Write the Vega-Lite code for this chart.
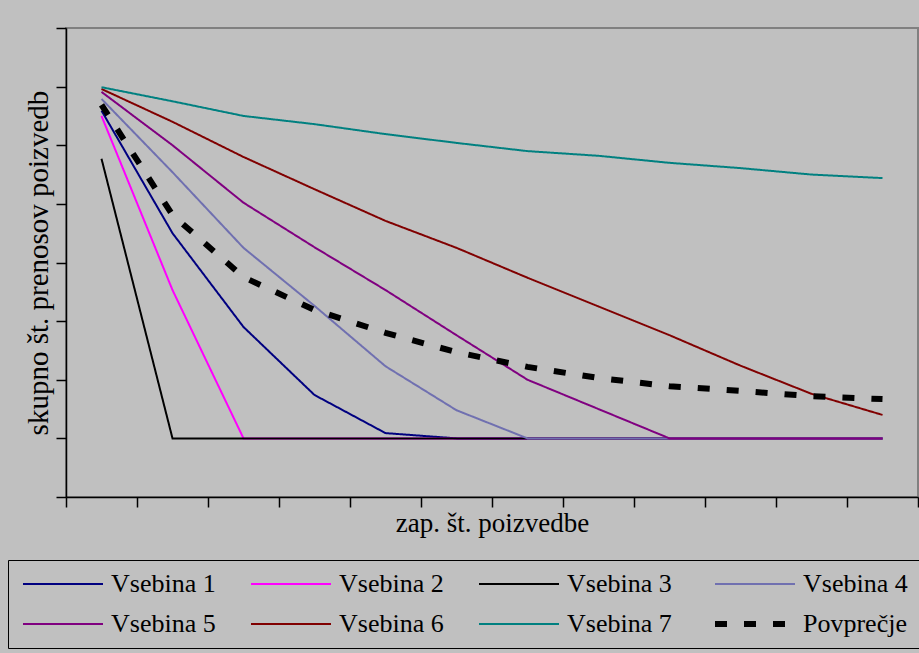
{
  "$schema": "https://vega.github.io/schema/vega-lite/v6.json",
  "autosize": {"type": "none"},
  "width": 852,
  "height": 469,
  "padding": {"left": 66, "top": 28, "right": 1, "bottom": 156},
  "background": "#C0C0C0",
  "config": {
    "font": "Liberation Serif",
    "view": {"fill": "#C0C0C0", "stroke": "#808080", "strokeWidth": 2},
    "axis": {
      "grid": false,
      "labels": false,
      "domainColor": "#000000",
      "domainWidth": 1.5,
      "tickColor": "#000000",
      "tickWidth": 1.5,
      "tickSize": 10,
      "titleFont": "Liberation Serif",
      "titleFontWeight": "normal",
      "titleColor": "#000000"
    },
    "legend": {
      "labelFont": "Liberation Serif",
      "labelFontSize": 26,
      "labelColor": "#000000",
      "labelFontWeight": "normal"
    }
  },
  "data": {
    "values": [
      {"x": 1, "y": 65.9, "series": "Vsebina 1"}, {"x": 2, "y": 45.0, "series": "Vsebina 1"}, {"x": 3, "y": 29.0, "series": "Vsebina 1"}, {"x": 4, "y": 17.4, "series": "Vsebina 1"}, {"x": 5, "y": 10.9, "series": "Vsebina 1"}, {"x": 6, "y": 10, "series": "Vsebina 1"}, {"x": 7, "y": 10, "series": "Vsebina 1"}, {"x": 8, "y": 10, "series": "Vsebina 1"}, {"x": 9, "y": 10, "series": "Vsebina 1"}, {"x": 10, "y": 10, "series": "Vsebina 1"}, {"x": 11, "y": 10, "series": "Vsebina 1"}, {"x": 12, "y": 10, "series": "Vsebina 1"},
      {"x": 1, "y": 65.0, "series": "Vsebina 2"}, {"x": 2, "y": 35.3, "series": "Vsebina 2"}, {"x": 3, "y": 10, "series": "Vsebina 2"}, {"x": 4, "y": 10, "series": "Vsebina 2"}, {"x": 5, "y": 10, "series": "Vsebina 2"}, {"x": 6, "y": 10, "series": "Vsebina 2"}, {"x": 7, "y": 10, "series": "Vsebina 2"}, {"x": 8, "y": 10, "series": "Vsebina 2"}, {"x": 9, "y": 10, "series": "Vsebina 2"}, {"x": 10, "y": 10, "series": "Vsebina 2"}, {"x": 11, "y": 10, "series": "Vsebina 2"}, {"x": 12, "y": 10, "series": "Vsebina 2"},
      {"x": 1, "y": 57.7, "series": "Vsebina 3"}, {"x": 2, "y": 10, "series": "Vsebina 3"}, {"x": 3, "y": 10, "series": "Vsebina 3"}, {"x": 4, "y": 10, "series": "Vsebina 3"}, {"x": 5, "y": 10, "series": "Vsebina 3"}, {"x": 6, "y": 10, "series": "Vsebina 3"}, {"x": 7, "y": 10, "series": "Vsebina 3"}, {"x": 8, "y": 10, "series": "Vsebina 3"}, {"x": 9, "y": 10, "series": "Vsebina 3"}, {"x": 10, "y": 10, "series": "Vsebina 3"}, {"x": 11, "y": 10, "series": "Vsebina 3"}, {"x": 12, "y": 10, "series": "Vsebina 3"},
      {"x": 1, "y": 67.9, "series": "Vsebina 4"}, {"x": 2, "y": 55.4, "series": "Vsebina 4"}, {"x": 3, "y": 42.5, "series": "Vsebina 4"}, {"x": 4, "y": 32.6, "series": "Vsebina 4"}, {"x": 5, "y": 22.3, "series": "Vsebina 4"}, {"x": 6, "y": 14.8, "series": "Vsebina 4"}, {"x": 7, "y": 10, "series": "Vsebina 4"}, {"x": 8, "y": 10, "series": "Vsebina 4"}, {"x": 9, "y": 10, "series": "Vsebina 4"}, {"x": 10, "y": 10, "series": "Vsebina 4"}, {"x": 11, "y": 10, "series": "Vsebina 4"}, {"x": 12, "y": 10, "series": "Vsebina 4"},
      {"x": 1, "y": 69.1, "series": "Vsebina 5"}, {"x": 2, "y": 60.0, "series": "Vsebina 5"}, {"x": 3, "y": 50.2, "series": "Vsebina 5"}, {"x": 4, "y": 42.6, "series": "Vsebina 5"}, {"x": 5, "y": 35.3, "series": "Vsebina 5"}, {"x": 6, "y": 27.6, "series": "Vsebina 5"}, {"x": 7, "y": 20.0, "series": "Vsebina 5"}, {"x": 8, "y": 15.0, "series": "Vsebina 5"}, {"x": 9, "y": 10, "series": "Vsebina 5"}, {"x": 10, "y": 10, "series": "Vsebina 5"}, {"x": 11, "y": 10, "series": "Vsebina 5"}, {"x": 12, "y": 10, "series": "Vsebina 5"},
      {"x": 1, "y": 69.6, "series": "Vsebina 6"}, {"x": 2, "y": 64.0, "series": "Vsebina 6"}, {"x": 3, "y": 58.0, "series": "Vsebina 6"}, {"x": 4, "y": 52.5, "series": "Vsebina 6"}, {"x": 5, "y": 47.1, "series": "Vsebina 6"}, {"x": 6, "y": 42.5, "series": "Vsebina 6"}, {"x": 7, "y": 37.4, "series": "Vsebina 6"}, {"x": 8, "y": 32.5, "series": "Vsebina 6"}, {"x": 9, "y": 27.6, "series": "Vsebina 6"}, {"x": 10, "y": 22.4, "series": "Vsebina 6"}, {"x": 11, "y": 17.6, "series": "Vsebina 6"}, {"x": 12, "y": 14.0, "series": "Vsebina 6"},
      {"x": 1, "y": 69.9, "series": "Vsebina 7"}, {"x": 2, "y": 67.5, "series": "Vsebina 7"}, {"x": 3, "y": 65.0, "series": "Vsebina 7"}, {"x": 4, "y": 63.6, "series": "Vsebina 7"}, {"x": 5, "y": 61.9, "series": "Vsebina 7"}, {"x": 6, "y": 60.4, "series": "Vsebina 7"}, {"x": 7, "y": 59.0, "series": "Vsebina 7"}, {"x": 8, "y": 58.2, "series": "Vsebina 7"}, {"x": 9, "y": 57.0, "series": "Vsebina 7"}, {"x": 10, "y": 56.1, "series": "Vsebina 7"}, {"x": 11, "y": 55.0, "series": "Vsebina 7"}, {"x": 12, "y": 54.4, "series": "Vsebina 7"},
      {"x": 1, "y": 66.9, "series": "Povprečje"}, {"x": 2, "y": 48.1, "series": "Povprečje"}, {"x": 3, "y": 37.5, "series": "Povprečje"}, {"x": 4, "y": 31.9, "series": "Povprečje"}, {"x": 5, "y": 28.0, "series": "Povprečje"}, {"x": 6, "y": 24.7, "series": "Povprečje"}, {"x": 7, "y": 22.2, "series": "Povprečje"}, {"x": 8, "y": 20.3, "series": "Povprečje"}, {"x": 9, "y": 18.9, "series": "Povprečje"}, {"x": 10, "y": 18.1, "series": "Povprečje"}, {"x": 11, "y": 17.2, "series": "Povprečje"}, {"x": 12, "y": 16.7, "series": "Povprečje"}
    ]
  },
  "encoding": {
    "x": {
      "field": "x",
      "type": "quantitative",
      "scale": {"domain": [0.5, 12.5], "nice": false, "zero": false},
      "axis": {
        "title": "zap. št. poizvedbe",
        "titleFontSize": 27,
        "titlePadding": 3,
        "values": [0.5, 1.5, 2.5, 3.5, 4.5, 5.5, 6.5, 7.5, 8.5, 9.5, 10.5, 11.5, 12.5]
      }
    },
    "y": {
      "field": "y",
      "type": "quantitative",
      "scale": {"domain": [0, 80], "nice": false},
      "axis": {
        "title": "skupno št. prenosov poizvedb",
        "titleFontSize": 29,
        "titlePadding": 2,
        "values": [0, 10, 20, 30, 40, 50, 60, 70, 80]
      }
    },
    "color": {
      "field": "series",
      "type": "nominal",
      "scale": {
        "domain": ["Vsebina 1", "Vsebina 2", "Vsebina 3", "Vsebina 4", "Vsebina 5", "Vsebina 6", "Vsebina 7", "Povprečje"],
        "range": ["#000080", "#FF00FF", "#000000", "#7070B0", "#800080", "#800000", "#008080", "#000000"]
      },
      "legend": {
        "title": null,
        "orient": "none",
        "legendX": -58,
        "legendY": 532,
        "direction": "horizontal",
        "columns": 4,
        "symbolType": "stroke",
        "symbolSize": 6400,
        "symbolStrokeWidth": 2,
        "symbolOffset": 31,
        "labelFont": "Liberation Serif",
        "labelFontSize": 26,
        "labelColor": "#000000",
        "labelOffset": 35,
        "labelLimit": 0,
        "columnPadding": 31,
        "rowPadding": 14,
        "padding": 11,
        "strokeColor": "#000000",
        "encode": {
          "symbols": {
            "update": {
              "strokeWidth": {"signal": "datum.label === 'Povprečje' ? 6 : 2"}
            }
          }
        }
      }
    },
    "strokeDash": {
      "field": "series",
      "type": "nominal",
      "scale": {
        "domain": ["Vsebina 1", "Vsebina 2", "Vsebina 3", "Vsebina 4", "Vsebina 5", "Vsebina 6", "Vsebina 7", "Povprečje"],
        "range": [[1, 0], [1, 0], [1, 0], [1, 0], [1, 0], [1, 0], [1, 0], [12, 17]]
      }
    }
  },
  "layer": [
    {
      "transform": [{"filter": "datum.series !== 'Povprečje'"}],
      "mark": {"type": "line", "strokeWidth": 2, "strokeCap": "butt", "clip": true}
    },
    {
      "transform": [{"filter": "datum.series === 'Povprečje'"}],
      "mark": {"type": "line", "strokeWidth": 6, "strokeCap": "butt", "clip": true}
    }
  ]
}
